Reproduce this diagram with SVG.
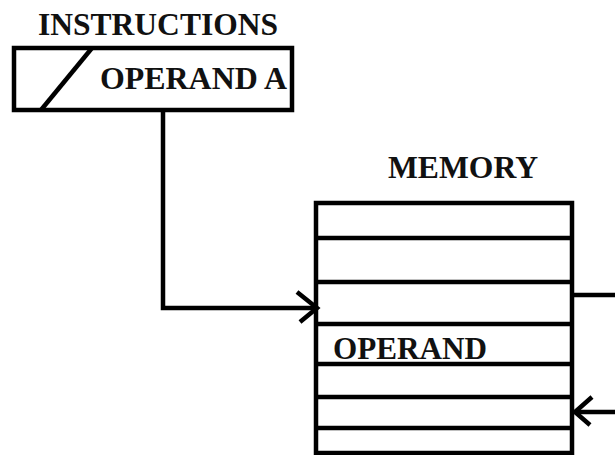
<svg xmlns="http://www.w3.org/2000/svg" width="615" height="455" viewBox="0 0 615 455">
<style>
.t{font-family:"Liberation Serif","Times New Roman",serif;font-weight:bold;font-size:31px;fill:#111}
.s{stroke:#000;stroke-width:4.5;fill:none}
</style>
<rect width="615" height="455" fill="#fff"/>
<g id="instructions">
<text class="t" x="38" y="35" textLength="240" lengthAdjust="spacingAndGlyphs">INSTRUCTIONS</text>
<rect class="s" x="14" y="48" width="278" height="62"/>
<line class="s" x1="92" y1="48" x2="41" y2="110"/>
<text class="t" x="100" y="89" textLength="187" lengthAdjust="spacingAndGlyphs">OPERAND A</text>
</g>
<g id="memory">
<text class="t" x="388" y="178" textLength="150" lengthAdjust="spacingAndGlyphs">MEMORY</text>
<rect class="s" x="316" y="203" width="256" height="250"/>
<path class="s" d="M316 238H572M316 282H572M316 324H572M316 364H572M316 397H572M316 428H572"/>
<text class="t" x="333" y="359" textLength="154" lengthAdjust="spacingAndGlyphs">OPERAND</text>
</g>
<g id="connectors">
<path class="s" d="M163 110V308H316"/>
<path class="s" d="M297 292L317 308L300 322"/>
<path class="s" d="M572 295H615"/>
<path class="s" d="M615 412H576"/>
<path class="s" d="M592 397L575 412L590 425"/>
</g>
</svg>
